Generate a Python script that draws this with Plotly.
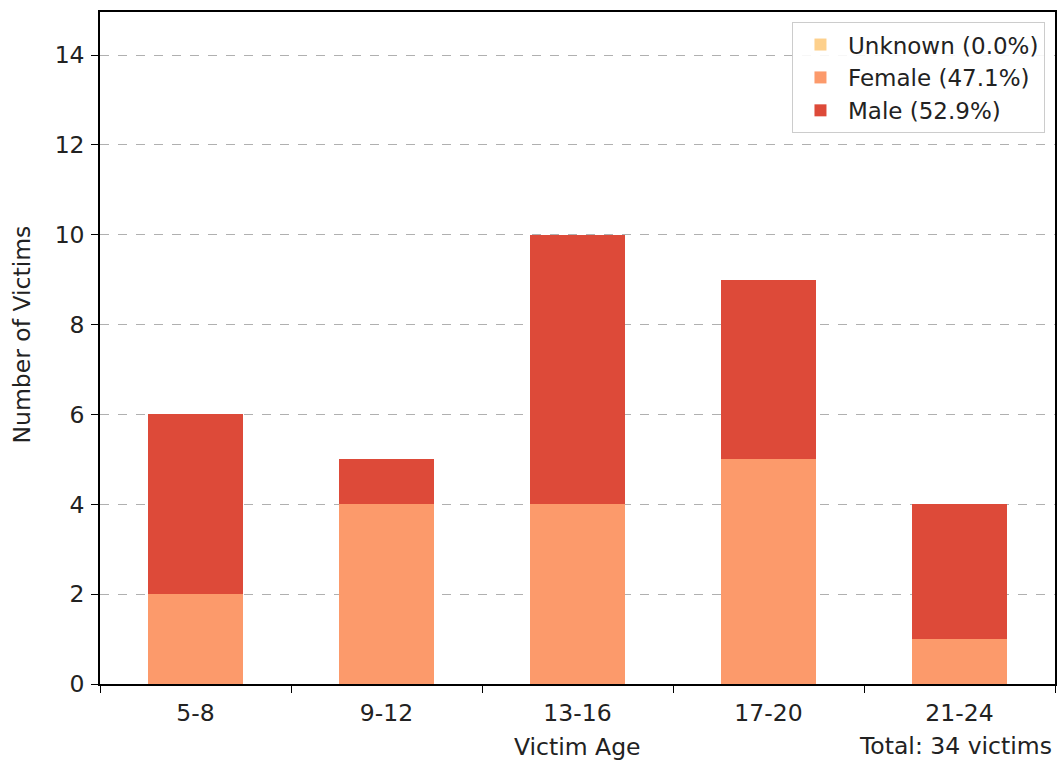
import plotly.graph_objects as go

categories = ["5-8", "9-12", "13-16", "17-20", "21-24"]
female = [2, 4, 4, 5, 1]
male = [4, 1, 6, 4, 3]
unknown = [0, 0, 0, 0, 0]
y_ticks = [0, 2, 4, 6, 8, 10, 12, 14]

total = sum(female) + sum(male) + sum(unknown)
pct = lambda s: 100.0 * sum(s) / total

C_UNK = "#fdd08c"
C_FEM = "#fc9a6b"
C_MALE = "#dd4a39"

fig = go.Figure()
fig.add_trace(go.Bar(x=categories, y=female, name=f"Female ({pct(female):.1f}%)",
                     marker=dict(color=C_FEM, line=dict(width=0)), width=0.5,
                     legendrank=2, legendgroup="f"))
fig.add_trace(go.Bar(x=categories, y=male, name=f"Male ({pct(male):.1f}%)",
                     marker=dict(color=C_MALE, line=dict(width=0)), width=0.5,
                     legendrank=3, legendgroup="m"))
fig.add_trace(go.Bar(x=categories, y=unknown, name=f"Unknown ({pct(unknown):.1f}%)",
                     marker=dict(color=C_UNK, line=dict(width=0)), width=0.5,
                     legendrank=1, legendgroup="u"))

FONT = "DejaVu Sans"
fig.update_layout(
    width=1057, height=763,
    barmode="stack",
    paper_bgcolor="white", plot_bgcolor="white",
    margin=dict(l=100, r=2, t=12, b=79, autoexpand=False),
    font=dict(family=FONT, size=23.5, color="#222222"),
    legend=dict(x=0.9895, y=0.985, xanchor="right", yanchor="top",
                bgcolor="rgba(255,255,255,0.9)", bordercolor="#cccccc", borderwidth=1,
                traceorder="normal", font=dict(size=23), itemwidth=45,
                tracegroupgap=12),
    xaxis=dict(
        type="category", range=[-0.5, 4.5], automargin=False,
        showline=True, linecolor="black", linewidth=1.5, mirror=True,
        ticks="outside", tickson="boundaries", ticklen=7, tickcolor="black",
        showgrid=False, tickfont=dict(size=23.5), ticklabelstandoff=7,
    ),
    yaxis=dict(
        range=[0, 14.96], tickvals=y_ticks, automargin=False,
        showline=True, linecolor="black", linewidth=1.5, mirror=True,
        ticks="outside", ticklen=7, tickcolor="black",
        showgrid=True, gridcolor="#b0b0b0", griddash="dash", gridwidth=1,
        zeroline=False, tickfont=dict(size=23.5), ticklabelstandoff=2,
    ),
    annotations=[
        dict(text="Victim Age", xref="paper", yref="paper", x=0.5, y=-0.094,
             xanchor="center", yanchor="middle", showarrow=False,
             font=dict(size=23.5)),
        dict(text="Number of Victims", xref="paper", yref="paper", x=-0.0817, y=0.52,
             xanchor="center", yanchor="middle", textangle=-90, showarrow=False,
             font=dict(size=23.5)),
        dict(text=f"Total: {total} victims", xref="paper", yref="paper",
             x=0.999, y=-0.092, xanchor="right", yanchor="middle", showarrow=False,
             font=dict(size=23.5)),
    ],
)

fig.write_html("out.html", config={"displayModeBar": False})

# remove the default page margin so the figure fills the window exactly
with open("out.html", "r", encoding="utf-8") as fh:
    html = fh.read()
html = html.replace("<head>", "<head><style>html,body{margin:0;padding:0;overflow:hidden;}</style>", 1)
with open("out.html", "w", encoding="utf-8") as fh:
    fh.write(html)
